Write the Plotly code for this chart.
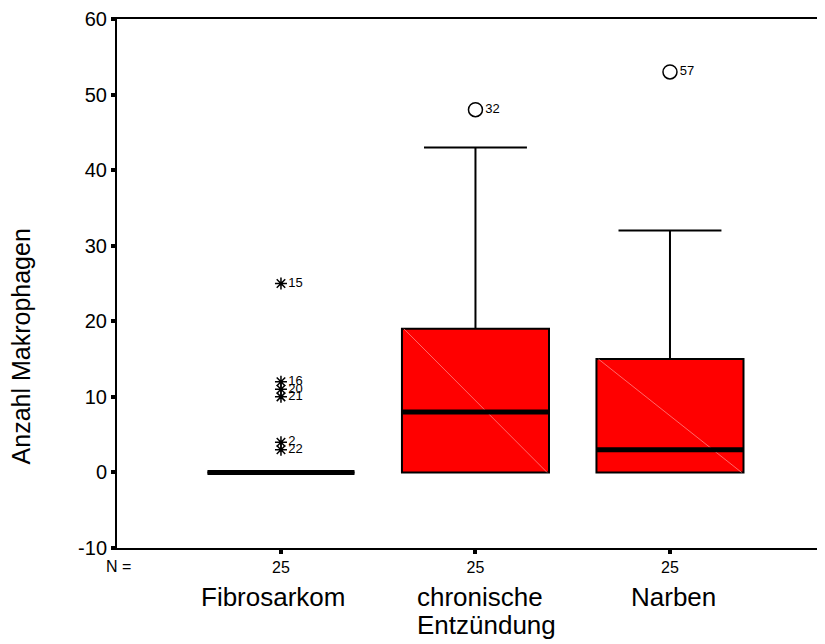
import plotly.graph_objects as go

categories = ["Fibrosarkom", "chronische<br>Entzündung", "Narben"]
n_counts = ["25", "25", "25"]
q1 = [0, 0, 0]
median = [0, 8, 3]
q3 = [0, 19, 15]
lower = [0, 0, 0]
upper = [0, 43, 32]

# extremes (stars) and outliers (circles): (category index, value, case label)
extreme_cat = [0, 0, 0, 0, 0, 0]
extreme_val = [25, 12, 11, 10, 4, 3]
extreme_lbl = ["15", "16", "20", "21", "2", "22"]
outlier_cat = [1, 2]
outlier_val = [48, 53]
outlier_lbl = ["32", "57"]

y_ticks = [-10, 0, 10, 20, 30, 40, 50, 60]
y_tick_text = ["-10", "0", "10", "20", "30", "40", "50", "60"]

xs = list(range(len(categories)))
box_w = 0.756
half = box_w / 2

fig = go.Figure()
fig.add_trace(go.Box(
    x=xs, q1=q1, median=median, q3=q3, lowerfence=lower, upperfence=upper,
    width=box_w, whiskerwidth=0.7, fillcolor="#ff0000",
    line=dict(color="black", width=2), boxpoints=False, showlegend=False,
    hoverinfo="skip"))

# faint diagonal in each box (rendering artifact of original)
for i in xs:
    if q3[i] > q1[i]:
        fig.add_trace(go.Scatter(
            x=[i - half + 0.01, i + half - 0.01], y=[q3[i], q1[i]], mode="lines",
            line=dict(color="rgba(255,130,130,0.8)", width=1),
            showlegend=False, hoverinfo="skip"))

# thick median lines
for i in xs:
    fig.add_trace(go.Scatter(
        x=[i - half, i + half], y=[median[i], median[i]], mode="lines",
        line=dict(color="black", width=5), showlegend=False, hoverinfo="skip"))

fig.add_trace(go.Scatter(
    x=extreme_cat, y=extreme_val, mode="markers+text",
    marker=dict(symbol="asterisk-open", size=10, color="black",
                line=dict(color="black", width=1.5)),
    text=extreme_lbl, textposition="middle right",
    textfont=dict(size=13, color="black"), showlegend=False, hoverinfo="skip"))

fig.add_trace(go.Scatter(
    x=outlier_cat, y=outlier_val, mode="markers+text",
    marker=dict(symbol="circle-open", size=14, color="black",
                line=dict(color="black", width=1.5)),
    text=outlier_lbl, textposition="middle right",
    textfont=dict(size=13, color="black"), showlegend=False, hoverinfo="skip"))

# category labels (one annotation per line, tight line spacing like the original)
label_shift = [-8, 10, 4]
annotations = []
for i, c in enumerate(categories):
    lines = c.split("<br>")
    for k, line in enumerate(lines):
        annotations.append(dict(
            x=i, y=0, xref="x", yref="paper", text=line, showarrow=False,
            xanchor="left" if len(lines) > 1 else "center", yanchor="top",
            xshift=label_shift[i] - (70 if len(lines) > 1 else 0),
            yshift=-32 - 28 * k, font=dict(size=26, color="black")))
annotations.append(dict(
    x=0, y=0, xref="paper", yref="paper", text="N =", showarrow=False,
    xanchor="left", yanchor="top", xshift=-13, yshift=-8,
    font=dict(size=16, color="black")))
annotations.append(dict(
    x=0, y=0.381, xref="paper", yref="paper", text="Anzahl Makrophagen",
    showarrow=False, textangle=-90, xanchor="center", yanchor="middle",
    xshift=-96, font=dict(size=25, color="black")))

fig.update_layout(
    width=817, height=636,
    margin=dict(l=109, r=0, t=11, b=96),
    paper_bgcolor="white", plot_bgcolor="white",
    font=dict(family="Liberation Sans, Arial, sans-serif", color="black"),
    xaxis=dict(
        range=[-0.843, 2.797], tickmode="array", tickvals=xs, ticktext=n_counts,
        tickfont=dict(size=16), ticks="outside", ticklen=4, tickwidth=4,
        tickcolor="black", showline=True, linecolor="black", linewidth=2,
        mirror=True, showgrid=False, zeroline=False, automargin=False),
    yaxis=dict(
        range=[-10, 60], tickmode="array", tickvals=y_ticks, ticktext=y_tick_text,
        tickfont=dict(size=20), ticks="outside", ticklen=4, tickwidth=4,
        tickcolor="black", showline=True, linecolor="black", linewidth=2,
        showgrid=False, zeroline=False, automargin=False),
    annotations=annotations,
)

fig.write_html("out.html")
